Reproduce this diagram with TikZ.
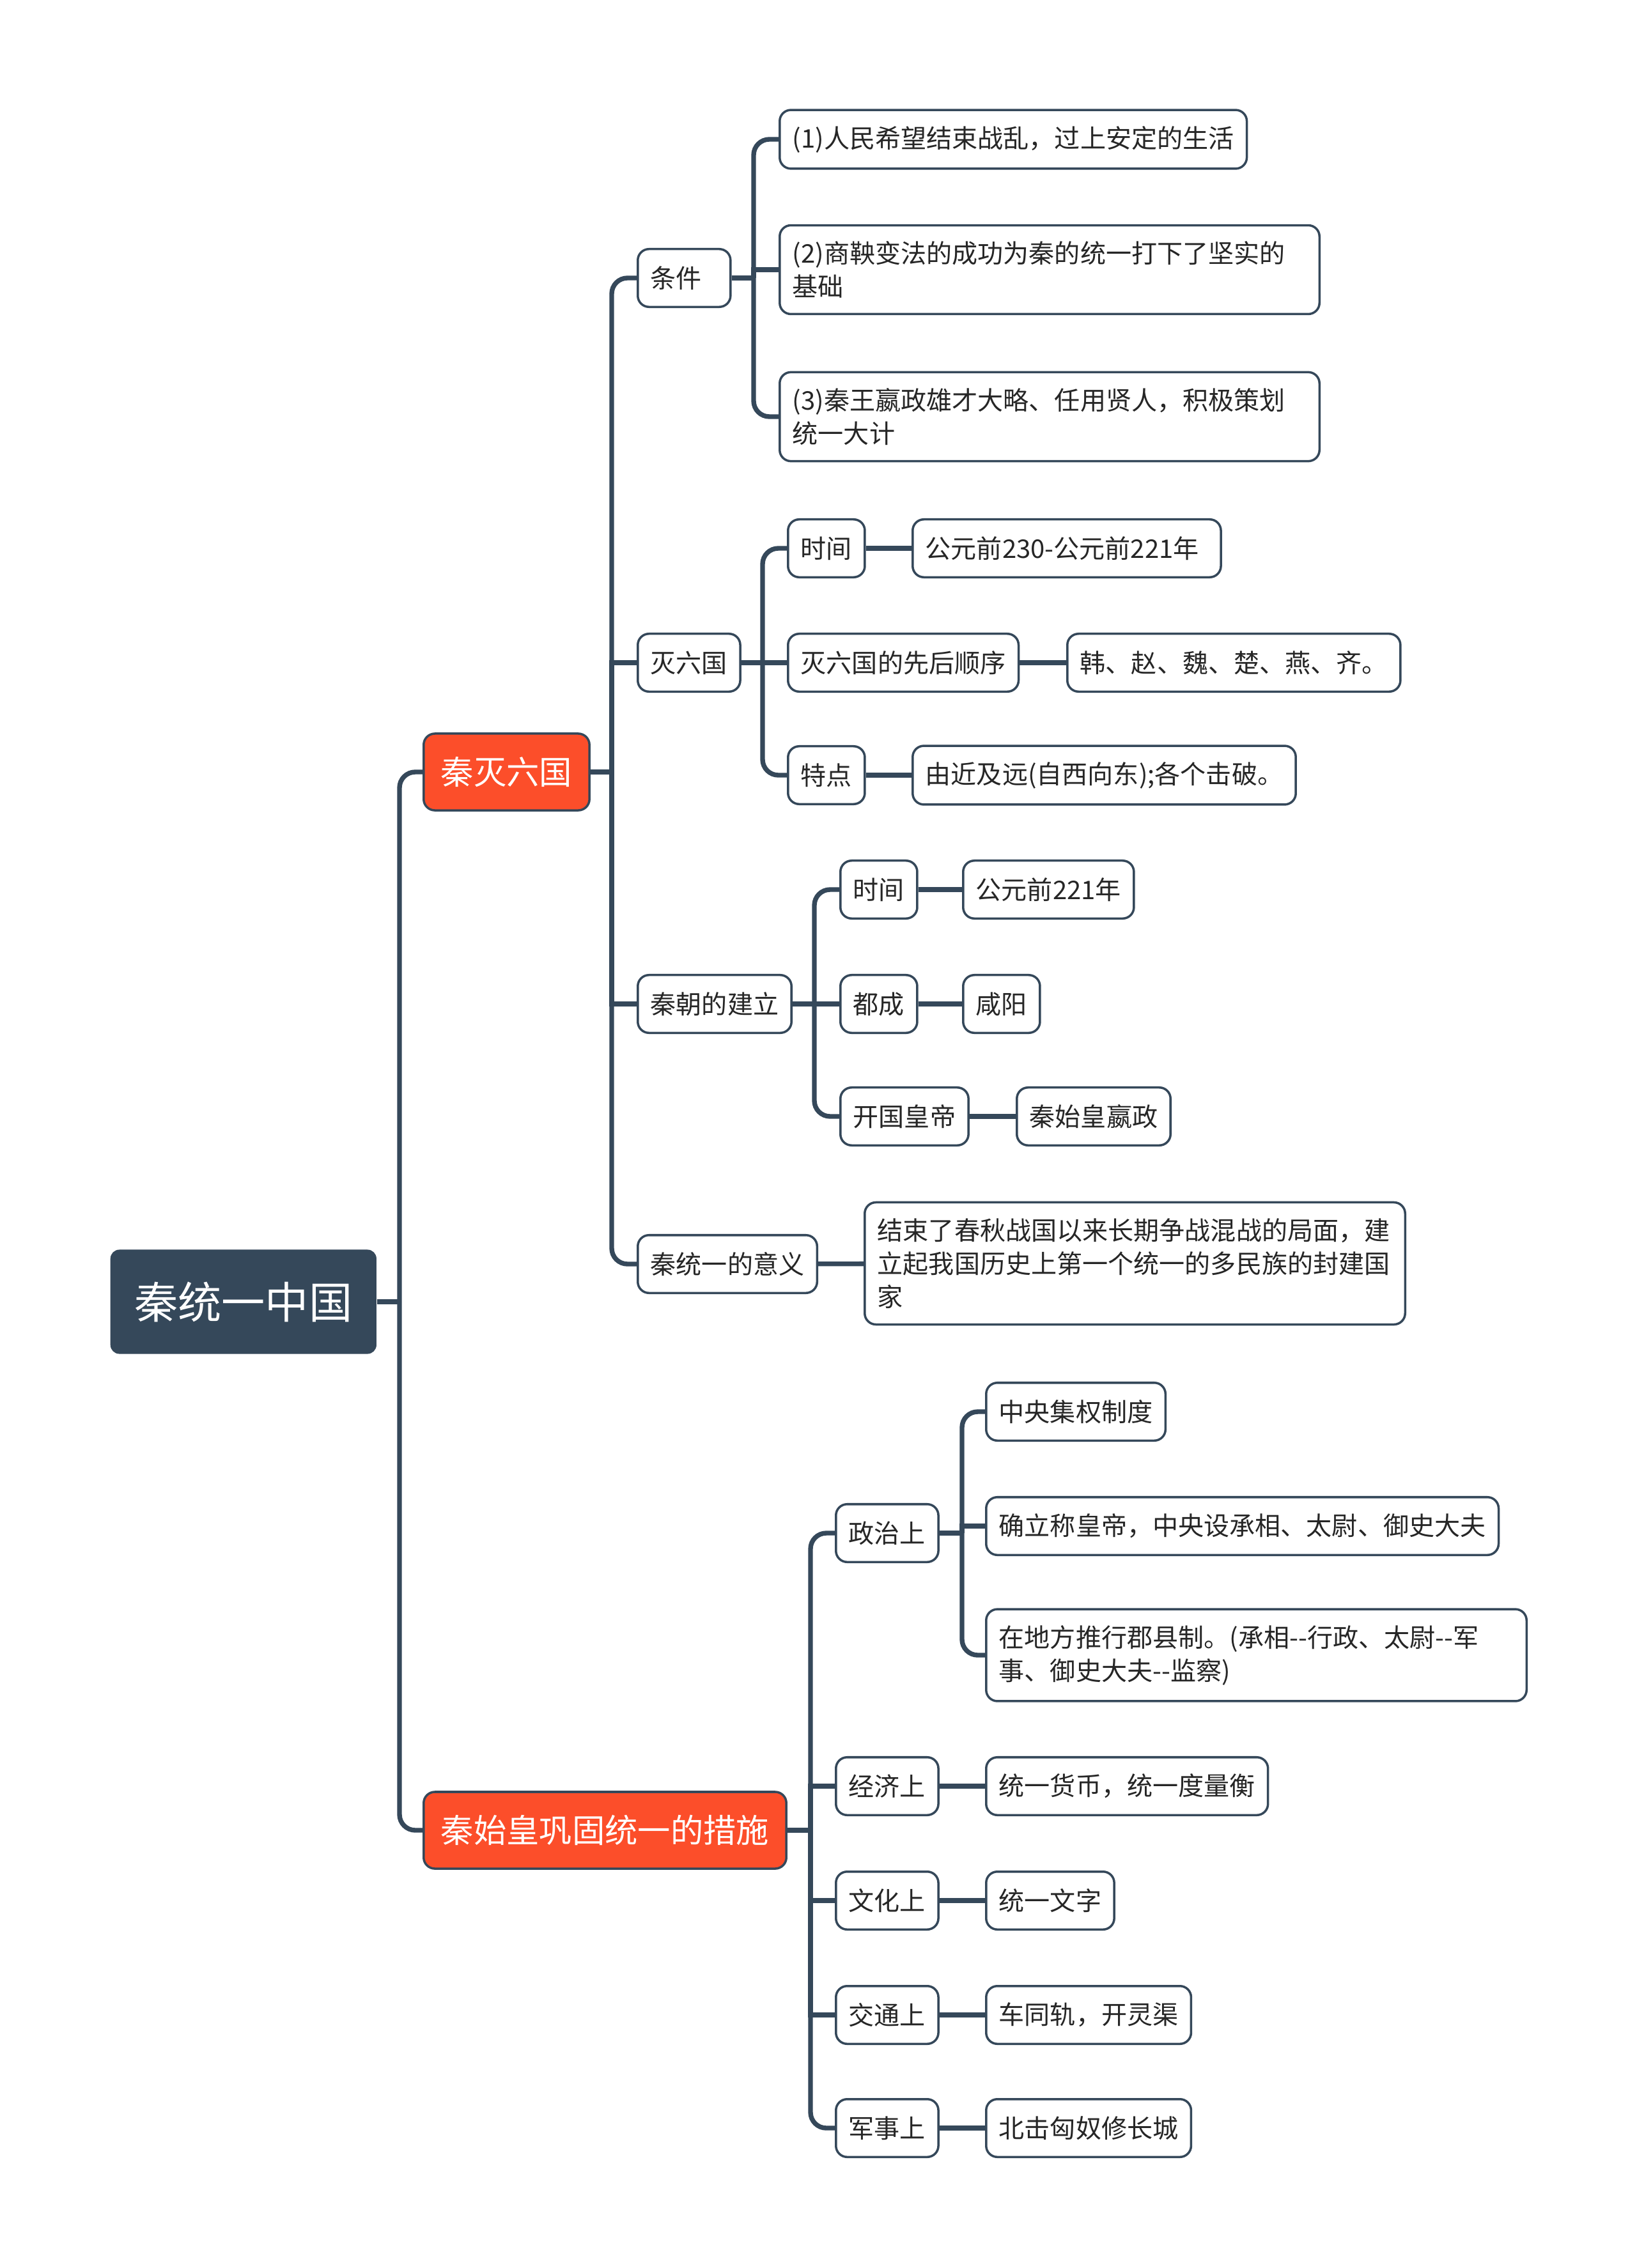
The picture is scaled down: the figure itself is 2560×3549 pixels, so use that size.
\documentclass[tikz,border=0pt]{standalone}
\usepackage{fontspec}
\usepackage{tikz}
\usetikzlibrary{positioning, calc}
\newfontfamily\cjk[Ligatures=TeXOff]{Noto Sans CJK SC}
\definecolor{slate}{RGB}{53,72,90}
\definecolor{qinred}{RGB}{252,78,42}
\definecolor{inkgray}{RGB}{38,38,38}
\tikzset{
  maproot/.style={fill=slate, rounded corners=4pt, text=white, anchor=west,
    minimum width=4.16cm, minimum height=1.63cm, font=\cjk\fontsize{19.4pt}{24pt}\selectfont},
  maptopic/.style={draw=slate, line width=1pt, fill=qinred, rounded corners=5pt, text=white, anchor=west,
    inner xsep=0.27cm, minimum height=1.2cm, font=\cjk\fontsize{14.6pt}{18pt}\selectfont},
  mapleaf/.style={draw=slate, line width=1pt, fill=white, rounded corners=5pt, text=inkgray, anchor=west,
    inner xsep=0.2cm, inner ysep=0.25cm, minimum height=0.905cm, align=left,
    font=\cjk\fontsize{11.4pt}{14.8pt}\selectfont},
  mapedge/.style={draw=slate, line width=2.1pt},
  mapbend/.style={mapedge, rounded corners=7pt}
}
\begin{document}
\begin{tikzpicture}[x=0.01cm, y=-0.01cm]
  \fill[white] (0,0) rectangle (2560,3549);
  \useasboundingbox (0,0) rectangle (2560,3549);

  % root and the two main branches
  \node[maproot] (qin) at (172,2037) {秦统一中国};
  \node[maptopic] (mie) at (661,1208) {秦灭六国};
  \node[maptopic] (gong) at (661,2864) {秦始皇巩固统一的措施};
  \coordinate (t0) at (625,2037);
  \draw[mapedge] (qin.east) -- (t0);
  \draw[mapbend] (t0) |- (mie.west);
  \draw[mapbend] (t0) |- (gong.west);

  % 秦灭六国
  \node[mapleaf, text width=1.05cm] (tj) at (996,435) {条件};
  \node[mapleaf] (lg) at (996,1037) {灭六国};
  \node[mapleaf] (jl) at (996,1571) {秦朝的建立};
  \node[mapleaf] (yy) at (996,1978) {秦统一的意义};
  \coordinate (t1) at (957,1208);
  \draw[mapedge] (mie.east) -- (t1);
  \draw[mapbend] (t1) |- (tj.west);
  \draw[mapedge] (t1) |- (lg.west);
  \draw[mapedge] (t1) |- (jl.west);
  \draw[mapbend] (t1) |- (yy.west);

  % 条件
  \node[mapleaf] (c1) at (1218,218) {(1)人民希望结束战乱，过上安定的生活};
  \node[mapleaf, text width=8.04cm] (c2) at (1218,422) {(2)商鞅变法的成功为秦的统一打下了坚实的\\基础};
  \node[mapleaf, text width=8.04cm] (c3) at (1218,652) {(3)秦王嬴政雄才大略、任用贤人，积极策划\\统一大计};
  \coordinate (t2) at (1179,435);
  \draw[mapedge] (tj.east) -- (t2);
  \draw[mapbend] (t2) |- (c1.west);
  \draw[mapedge] (t2) |- (c2.west);
  \draw[mapbend] (t2) |- (c3.west);

  % 灭六国
  \node[mapleaf] (lsj) at (1231,858) {时间};
  \node[mapleaf, text width=4.42cm] (lsjx) at (1426,858) {公元前230-公元前221年};
  \node[mapleaf] (lsx) at (1231,1037) {灭六国的先后顺序};
  \node[mapleaf] (lsxx) at (1668,1037) {韩、赵、魏、楚、燕、齐。};
  \node[mapleaf] (ltd) at (1231,1213) {特点};
  \node[mapleaf] (ltdx) at (1426,1213) {由近及远(自西向东);各个击破。};
  \coordinate (t3) at (1193,1037);
  \draw[mapedge] (lg.east) -- (t3);
  \draw[mapbend] (t3) |- (lsj.west);
  \draw[mapedge] (t3) -- (lsx.west);
  \draw[mapbend] (t3) |- (ltd.west);
  \draw[mapedge] (lsj) -- (lsjx);
  \draw[mapedge] (lsx) -- (lsxx);
  \draw[mapedge] (ltd) -- (ltdx);

  % 秦朝的建立
  \node[mapleaf] (jsj) at (1313,1392) {时间};
  \node[mapleaf] (jsjx) at (1505,1392) {公元前221年};
  \node[mapleaf] (jdc) at (1313,1571) {都成};
  \node[mapleaf] (jdcx) at (1505,1571) {咸阳};
  \node[mapleaf] (jhd) at (1313,1747) {开国皇帝};
  \node[mapleaf] (jhdx) at (1589,1747) {秦始皇嬴政};
  \coordinate (t4) at (1274,1571);
  \draw[mapedge] (jl.east) -- (t4);
  \draw[mapbend] (t4) |- (jsj.west);
  \draw[mapedge] (t4) -- (jdc.west);
  \draw[mapbend] (t4) |- (jhd.west);
  \draw[mapedge] (jsj) -- (jsjx);
  \draw[mapedge] (jdc) -- (jdcx);
  \draw[mapedge] (jhd) -- (jhdx);

  % 秦统一的意义
  \node[mapleaf, text width=8.05cm] (yyx) at (1351,1977) {结束了春秋战国以来长期争战混战的局面，建\\立起我国历史上第一个统一的多民族的封建国\\家};
  \draw[mapedge] (yy) -- (yyx);

  % 秦始皇巩固统一的措施
  \node[mapleaf] (zz) at (1306,2399) {政治上};
  \coordinate (t5) at (1268,2864);
  \draw[mapedge] (gong.east) -- (t5);
  \draw[mapbend] (t5) |- (zz.west);
  \node[mapleaf] (z1) at (1541,2209) {中央集权制度};
  \node[mapleaf] (z2) at (1541,2388) {确立称皇帝，中央设承相、太尉、御史大夫};
  \node[mapleaf, text width=8.05cm] (z3) at (1541,2590) {在地方推行郡县制。(承相--行政、太尉--军\\事、御史大夫--监察)};
  \coordinate (t6) at (1505,2399);
  \draw[mapedge] (zz.east) -- (t6);
  \draw[mapbend] (t6) |- (z1.west);
  \draw[mapedge] (t6) |- (z2.west);
  \draw[mapbend] (t6) |- (z3.west);
  \foreach \n/\a/\b/\y/\s in {jj/经济上/统一货币，统一度量衡/2795/mapedge,
      wh/文化上/统一文字/2974/mapedge, jt/交通上/车同轨，开灵渠/3153/mapedge,
      js/军事上/北击匈奴修长城/3330/mapbend}{
    \node[mapleaf] (\n) at (1306,\y) {\a};
    \node[mapleaf] (\n x) at (1541,\y) {\b};
    \draw[\s] (t5) |- (\n.west);
    \draw[mapedge] (\n) -- (\n x);
  }
\end{tikzpicture}
\end{document}
